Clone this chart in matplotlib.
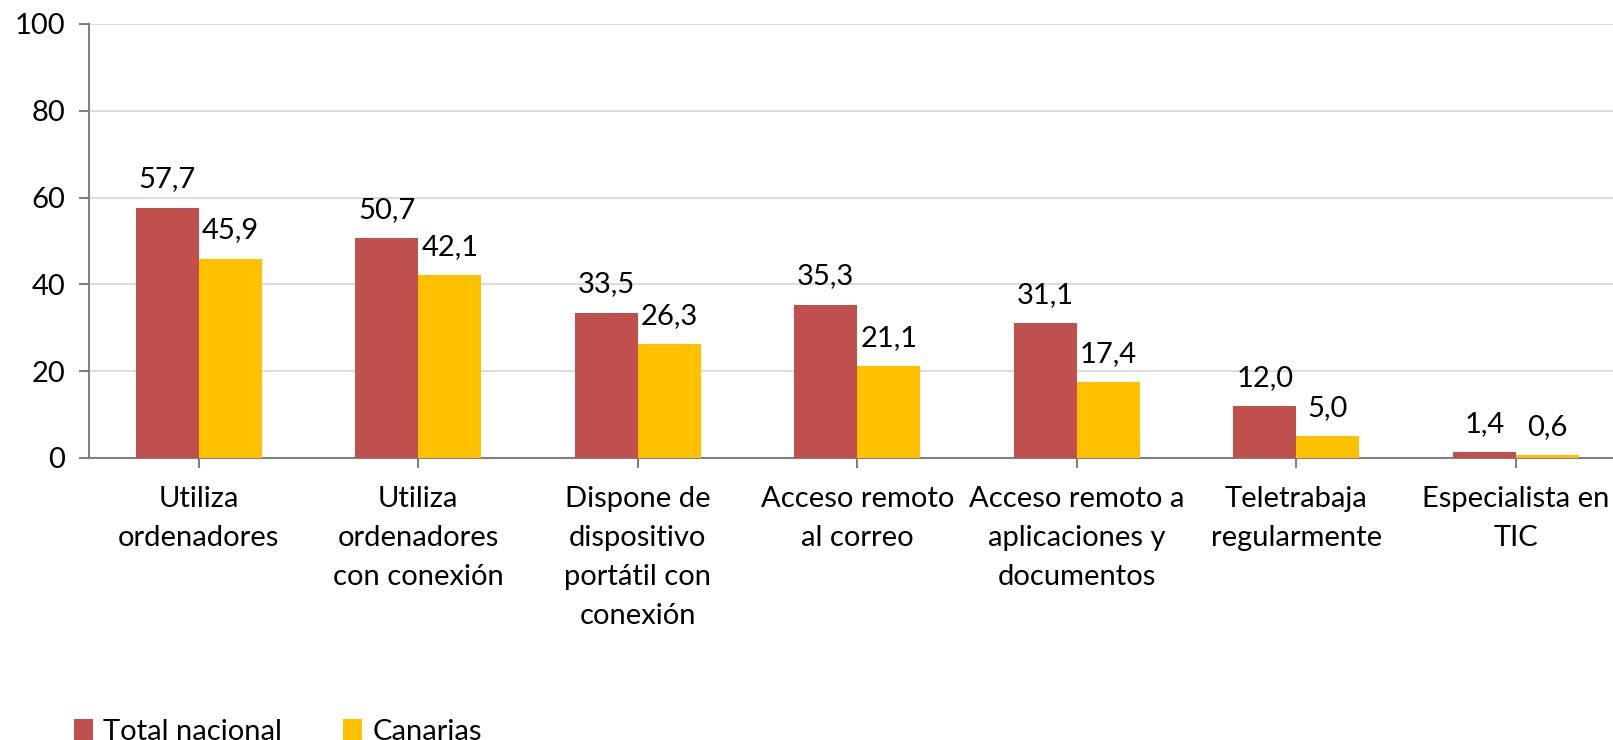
import matplotlib
matplotlib.use("Agg")
import matplotlib.pyplot as plt
import numpy as np
from matplotlib.patches import Patch

categories = ["Utiliza\nordenadores", "Utiliza\nordenadores\ncon conexión",
              "Dispone de\ndispositivo\nportátil con\nconexión", "Acceso remoto\nal correo",
              "Acceso remoto a\naplicaciones y\ndocumentos", "Teletrabaja\nregularmente",
              "Especialista en\nTIC"]
total_nacional = [57.7, 50.7, 33.5, 35.3, 31.1, 12.0, 1.4]
canarias = [45.9, 42.1, 26.3, 21.1, 17.4, 5.0, 0.6]
series_names = ["Total nacional", "Canarias"]
yticks = [0, 20, 40, 60, 80, 100]

red = "#C0504D"
yellow = "#FFC000"
FONT = "Lato"
FS = 21

plt.rcParams['font.family'] = [FONT, 'DejaVu Sans']

fig = plt.figure(figsize=(16.13, 7.40), dpi=100)
ax = fig.add_axes([89/1613, 282/740, 1536.5/1613, 434/740])

x = np.arange(len(categories))
w = 0.287
b1 = ax.bar(x - w/2, total_nacional, w, color=red, zorder=3)
b2 = ax.bar(x + w/2, canarias, w, color=yellow, zorder=3)

def fmt(v):
    return f"{v:.1f}".replace(".", ",")

for bars, vals in ((b1, total_nacional), (b2, canarias)):
    for r, v in zip(bars, vals):
        ax.annotate(fmt(v), (r.get_x() + r.get_width()/2, v), xytext=(0, 11),
                    textcoords="offset points", ha="center", va="bottom",
                    fontsize=FS, color="black")

ax.set_xlim(-0.5, len(categories) - 0.5)
ax.set_ylim(0, 100)
ax.set_yticks(yticks)
ax.set_yticklabels([str(t) for t in yticks], fontsize=FS)
ax.set_xticks(x)
ax.set_xticklabels(categories, fontsize=FS, linespacing=1.62)
ax.grid(axis="y", color="#D9D9D9", linewidth=1.3, zorder=0)
for s in ["top", "right"]:
    ax.spines[s].set_visible(False)
for s in ["left", "bottom"]:
    ax.spines[s].set_color("#808080")
    ax.spines[s].set_linewidth(1.5)
ax.tick_params(axis="y", length=7, width=1.5, color="#808080", pad=10)
ax.tick_params(axis="x", length=7, width=1.5, color="#808080", pad=13)

handles = [Patch(facecolor=red), Patch(facecolor=yellow)]
fig.legend(handles, series_names, loc="center left", bbox_to_anchor=(74/1613, 8/740),
           ncol=2, frameon=False, fontsize=FS, handlelength=0.65, handleheight=0.8,
           handletextpad=0.35, columnspacing=2.1, borderaxespad=0, borderpad=0)

fig.savefig("out.png", dpi=100)
